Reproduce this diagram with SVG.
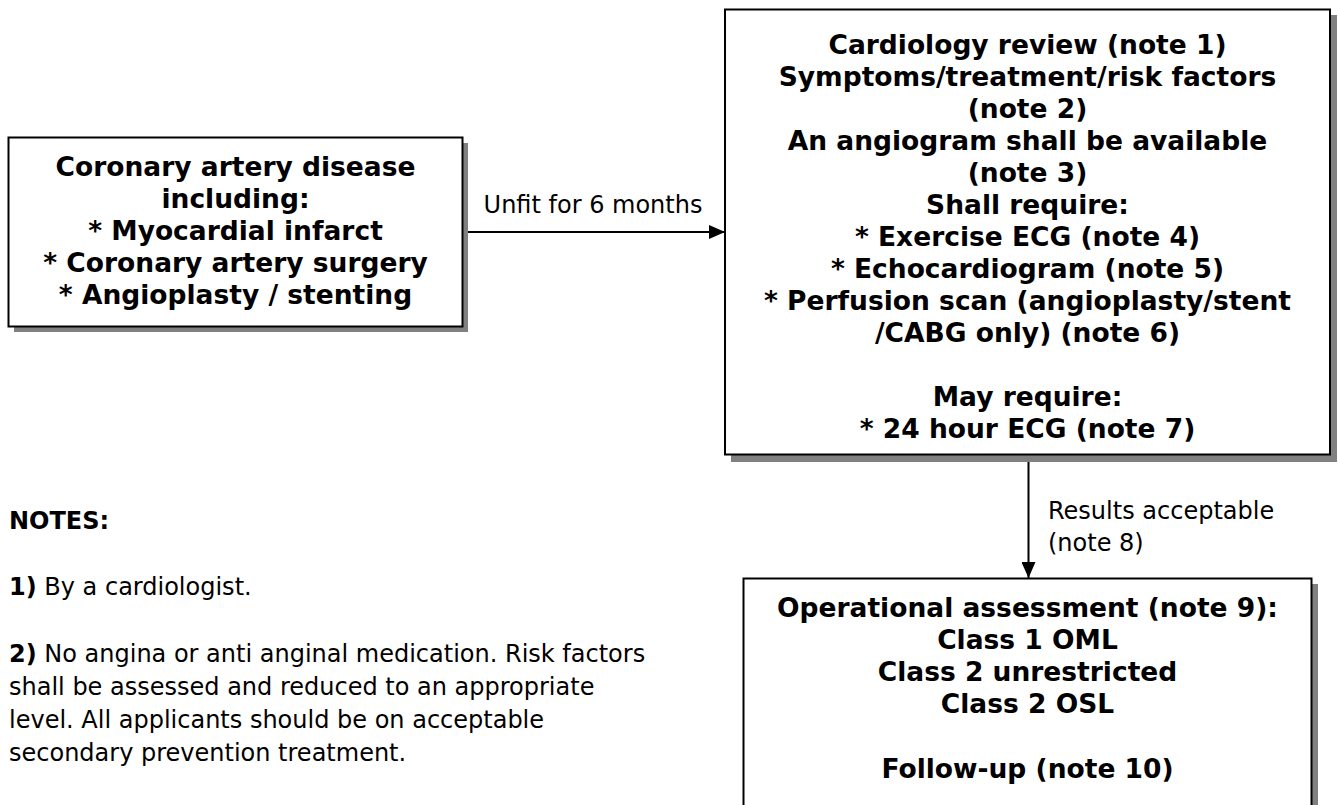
<svg xmlns="http://www.w3.org/2000/svg" width="1338" height="805" viewBox="0 0 1338 805">
<defs>
<style>
.box{fill:#fff;stroke:#000;stroke-width:2}
.sh{fill:#808080}
.bt{font-family:"DejaVu Sans",Verdana,sans-serif;font-size:26.5px;font-weight:bold;text-anchor:middle;fill:#000}
.rt{font-family:"DejaVu Sans",Verdana,sans-serif;font-size:24px;fill:#000}
.nt{font-family:"DejaVu Sans",Verdana,sans-serif;font-size:24px;fill:#000}
.b{font-weight:bold}
.ln{stroke:#000;stroke-width:2;fill:none}
</style>
<marker id="ah" markerWidth="16" markerHeight="14" refX="16" refY="7" orient="auto" markerUnits="userSpaceOnUse">
<path d="M0,0 L16,7 L0,14 Z" fill="#000"/>
</marker>
</defs>
<rect width="1338" height="805" fill="#fff"/>

<g id="connectors">
<line class="ln" x1="463" y1="232" x2="725" y2="232" marker-end="url(#ah)"/>
<text class="rt" x="593" y="213" text-anchor="middle">Unfit for 6 months</text>
<line class="ln" x1="1028.5" y1="455" x2="1028.5" y2="578" marker-end="url(#ah)"/>
<text class="rt" x="1048" y="519">Results acceptable</text>
<text class="rt" x="1048" y="551">(note 8)</text>
</g>

<g id="node-cad">
<rect class="sh" x="14" y="143" width="454" height="189"/>
<rect class="box" x="8.5" y="137.5" width="454" height="189"/>
<text class="bt" x="235.5" y="176">Coronary artery disease</text>
<text class="bt" x="235.5" y="208">including:</text>
<text class="bt" x="235.5" y="240">* Myocardial infarct</text>
<text class="bt" x="235.5" y="272">* Coronary artery surgery</text>
<text class="bt" x="235.5" y="304">* Angioplasty / stenting</text>
</g>

<g id="node-review">
<rect class="sh" x="731" y="15" width="606" height="447"/>
<rect class="box" x="725" y="9.5" width="605" height="445"/>
<text class="bt" x="1027.5" y="54">Cardiology review (note 1)</text>
<text class="bt" x="1027.5" y="86">Symptoms/treatment/risk factors</text>
<text class="bt" x="1027.5" y="118">(note 2)</text>
<text class="bt" x="1027.5" y="150">An angiogram shall be available</text>
<text class="bt" x="1027.5" y="182">(note 3)</text>
<text class="bt" x="1027.5" y="214">Shall require:</text>
<text class="bt" x="1027.5" y="246">* Exercise ECG (note 4)</text>
<text class="bt" x="1027.5" y="278">* Echocardiogram (note 5)</text>
<text class="bt" x="1027.5" y="310">* Perfusion scan (angioplasty/stent</text>
<text class="bt" x="1027.5" y="342">/CABG only) (note 6)</text>
<text class="bt" x="1027.5" y="406">May require:</text>
<text class="bt" x="1027.5" y="438">* 24 hour ECG (note 7)</text>
</g>

<g id="node-operational">
<rect class="sh" x="749" y="584" width="569" height="240"/>
<rect class="box" x="743.5" y="578.5" width="568" height="240"/>
<text class="bt" x="1027.5" y="617">Operational assessment (note 9):</text>
<text class="bt" x="1027.5" y="649">Class 1 OML</text>
<text class="bt" x="1027.5" y="681">Class 2 unrestricted</text>
<text class="bt" x="1027.5" y="713">Class 2 OSL</text>
<text class="bt" x="1027.5" y="778">Follow-up (note 10)</text>
</g>

<g id="notes">
<text class="nt b" x="9" y="529">NOTES:</text>
<text class="nt" x="9" y="595"><tspan class="b">1)</tspan> By a cardiologist.</text>
<text class="nt" x="9" y="662"><tspan class="b">2)</tspan> No angina or anti anginal medication. Risk factors</text>
<text class="nt" x="9" y="695">shall be assessed and reduced to an appropriate</text>
<text class="nt" x="9" y="728">level. All applicants should be on acceptable</text>
<text class="nt" x="9" y="761">secondary prevention treatment.</text>
</g>
</svg>
